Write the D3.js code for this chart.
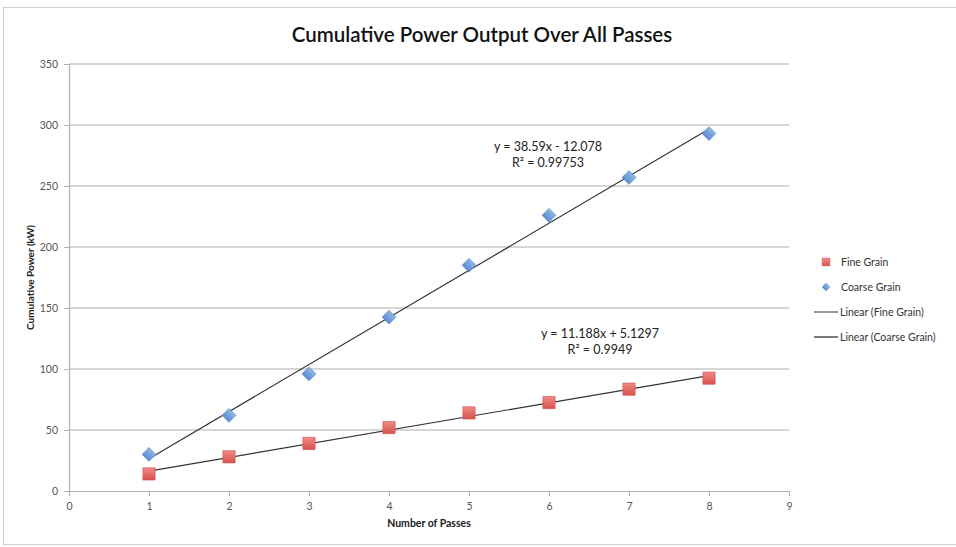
<!DOCTYPE html>
<html>
<head>
<meta charset="utf-8">
<script src="https://cdn.jsdelivr.net/npm/d3@7"></script>
<style>
  body { margin: 0; background: #fff; }
  text { font-family: Lato, "Open Sans", sans-serif; }
</style>
</head>
<body>
<div id="chart"></div>
<script>
// data
const passes = [1, 2, 3, 4, 5, 6, 7, 8];
const fineGrain = [14, 28, 39, 52, 64, 72.5, 83.5, 92.5];
const coarseGrain = [30, 62, 96, 142.5, 185, 226, 257, 293];
const fineFit = { slope: 11.188, intercept: 5.1297, label: "y = 11.188x + 5.1297", r2: "R² = 0.9949" };
const coarseFit = { slope: 38.59, intercept: -12.078, label: "y = 38.59x - 12.078", r2: "R² = 0.99753" };
const xTicks = [0, 1, 2, 3, 4, 5, 6, 7, 8, 9];
const yTicks = [0, 50, 100, 150, 200, 250, 300, 350];
const legendItems = ["Fine Grain", "Coarse Grain", "Linear (Fine Grain)", "Linear (Coarse Grain)"];

const W = 956, H = 547;
const margin = { top: 64, right: 167, bottom: 56, left: 69 };
const width = W - margin.left - margin.right;
const height = H - margin.top - margin.bottom;

const svg = d3.select("#chart").append("svg")
    .attr("width", W)
    .attr("height", H);

// outer frame
svg.append("rect")
    .attr("x", 3.5).attr("y", 7.5)
    .attr("width", W + 10).attr("height", H - 10)
    .attr("fill", "none")
    .attr("stroke", "#d0d0d0");

svg.append("text")
    .attr("x", 482).attr("y", 42)
    .attr("text-anchor", "middle")
    .attr("font-size", 20.5)
    .attr("font-weight", 600)
    .attr("fill", "#111")
    .text("Cumulative Power Output Over All Passes");

const g = svg.append("g")
    .attr("transform", "translate(" + margin.left + "," + margin.top + ")");

const x = d3.scaleLinear().domain([0, 9]).range([0, width]);
const y = d3.scaleLinear().domain([0, 350]).range([height, 0]);

// gridlines
g.append("g")
    .selectAll("line")
    .data(yTicks.slice(1))
    .join("line")
    .attr("x1", 0).attr("x2", width)
    .attr("y1", d => y(d)).attr("y2", d => y(d))
    .attr("stroke", "#c8c8c8")
    .attr("stroke-width", 1.5);

// axes
const yAxis = d3.axisLeft(y).tickValues(yTicks).tickSize(5).tickPadding(6);
const xAxis = d3.axisBottom(x).tickValues(xTicks).tickSize(5).tickPadding(7);

const yG = g.append("g").call(yAxis);
const xG = g.append("g").attr("transform", "translate(0," + height + ")").call(xAxis);

[yG, xG].forEach(a => {
    a.select(".domain").attr("stroke", "#b0b0b0").attr("stroke-width", 1.2);
    a.selectAll(".tick line").attr("stroke", "#b0b0b0");
    a.selectAll(".tick text")
        .attr("fill", "#555")
        .attr("font-size", 10.5)
        .style("font-family", "Lato, sans-serif");
});

// axis titles
svg.append("text")
    .attr("transform", "translate(34," + (margin.top + height / 2) + ") rotate(-90)")
    .attr("text-anchor", "middle")
    .attr("font-size", 10)
    .attr("font-weight", 700)
    .attr("fill", "#222")
    .text("Cumulative Power (kW)");

svg.append("text")
    .attr("x", margin.left + x(4.5)).attr("y", 527)
    .attr("text-anchor", "middle")
    .attr("font-size", 10.5)
    .attr("font-weight", 700)
    .attr("fill", "#222")
    .text("Number of Passes");

// trendlines
const fitLine = f => [passes[0], passes[passes.length - 1]].map(p => [x(p), y(f.slope * p + f.intercept)]);
[fineFit, coarseFit].forEach(f => {
    g.append("path")
        .attr("d", d3.line()(fitLine(f)))
        .attr("fill", "none")
        .attr("stroke", "#333")
        .attr("stroke-width", 1.2);
});

// markers
const defs = svg.append("defs");
const redGrad = defs.append("linearGradient").attr("id", "redGrad").attr("x1", 0).attr("y1", 0).attr("x2", 0).attr("y2", 1);
redGrad.append("stop").attr("offset", "0%").attr("stop-color", "#f08a88");
redGrad.append("stop").attr("offset", "100%").attr("stop-color", "#d9514e");
const blueGrad = defs.append("linearGradient").attr("id", "blueGrad").attr("x1", 0).attr("y1", 0).attr("x2", 0).attr("y2", 1);
blueGrad.append("stop").attr("offset", "0%").attr("stop-color", "#8fb6e8");
blueGrad.append("stop").attr("offset", "100%").attr("stop-color", "#5a8ed2");

const square = d3.symbol().type(d3.symbolSquare).size(150);
const diamond = d3.symbol().type(d3.symbolSquare).size(95);

g.append("g")
    .selectAll("path")
    .data(passes.map((p, i) => [p, fineGrain[i]]))
    .join("path")
    .attr("d", square)
    .attr("transform", d => "translate(" + x(d[0]) + "," + y(d[1]) + ")")
    .attr("fill", "url(#redGrad)")
    .attr("stroke", "#c9504d")
    .attr("stroke-width", 0.6);

g.append("g")
    .selectAll("path")
    .data(passes.map((p, i) => [p, coarseGrain[i]]))
    .join("path")
    .attr("d", diamond)
    .attr("transform", d => "translate(" + x(d[0]) + "," + y(d[1]) + ") rotate(45)")
    .attr("fill", "url(#blueGrad)")
    .attr("stroke", "#4f81bd")
    .attr("stroke-width", 0.6);

// equation labels
const eq = [
    { f: coarseFit, cx: 548, cy: 151 },
    { f: fineFit, cx: 600, cy: 338 }
];
eq.forEach(e => {
    const t = svg.append("text")
        .attr("text-anchor", "middle")
        .attr("font-size", 12.5)
        .attr("fill", "#222");
    t.append("tspan").attr("x", e.cx).attr("y", e.cy).text(e.f.label);
    t.append("tspan").attr("x", e.cx).attr("y", e.cy + 16).text(e.f.r2);
});

// legend
const legend = svg.append("g").attr("transform", "translate(814,262)");
legendItems.forEach((name, i) => {
    const row = legend.append("g").attr("transform", "translate(0," + i * 25 + ")");
    if (i === 0) {
        row.append("path").attr("d", d3.symbol().type(d3.symbolSquare).size(60)())
            .attr("transform", "translate(12,0)")
            .attr("fill", "url(#redGrad)").attr("stroke", "#c9504d").attr("stroke-width", 0.5);
    } else if (i === 1) {
        row.append("path").attr("d", d3.symbol().type(d3.symbolSquare).size(30)())
            .attr("transform", "translate(12,0) rotate(45)")
            .attr("fill", "url(#blueGrad)").attr("stroke", "#4f81bd").attr("stroke-width", 0.5);
    } else {
        row.append("line").attr("x1", 0).attr("x2", 24).attr("y1", 0).attr("y2", 0)
            .attr("stroke", i === 2 ? "#555" : "#222").attr("stroke-width", 1.2);
    }
    row.append("text")
        .attr("x", i < 2 ? 27 : 26).attr("y", 4)
        .attr("font-size", 10.5)
        .attr("fill", "#333")
        .text(name);
});
</script>
</body>
</html>
